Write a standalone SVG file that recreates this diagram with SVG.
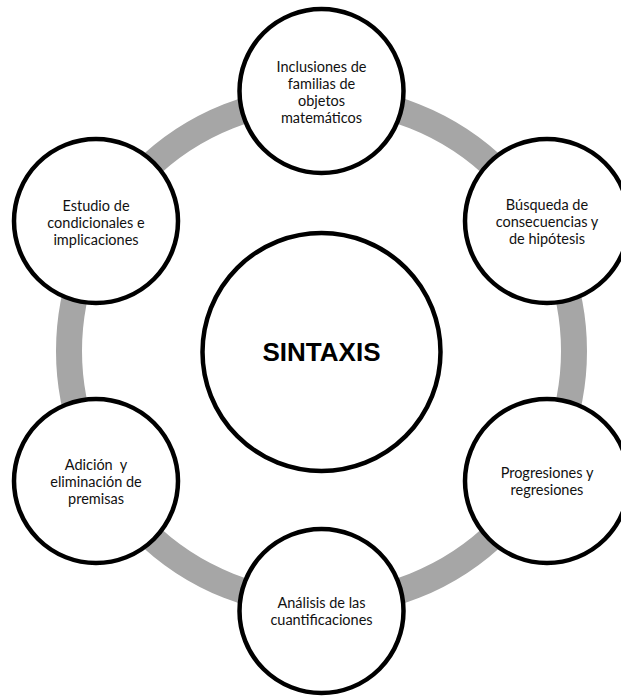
<svg xmlns="http://www.w3.org/2000/svg" width="621" height="696" viewBox="0 0 621 696">
  <style>
    .ring { fill: none; stroke: #a6a6a6; stroke-width: 26; }
    .node { fill: #ffffff; stroke: #000000; stroke-width: 4.5; }
    .label { font-family: Lato, "Liberation Sans", sans-serif; font-size: 14.5px; fill: #111111; text-anchor: middle; }
    .title { font-family: "Liberation Sans", Arial, sans-serif; font-size: 26px; font-weight: bold; fill: #000000; text-anchor: middle; }
  </style>
  <rect width="621" height="696" fill="#ffffff"/>

  <!-- gray cycle ring joining the outer nodes -->
  <g id="connectors">
    <circle class="ring" cx="321.5" cy="351" r="252.5"/>
  </g>

  <g id="node-center">
    <circle class="node" cx="321.5" cy="352" r="119"/>
    <text class="title" x="321.5" y="361">SINTAXIS</text>
  </g>

  <g id="node-top">
    <circle class="node" cx="321.5" cy="91" r="82"/>
    <text class="label" x="321.5" y="72">Inclusiones de</text>
    <text class="label" x="321.5" y="89">familias de</text>
    <text class="label" x="321.5" y="106">objetos</text>
    <text class="label" x="321.5" y="123">matemáticos</text>
  </g>

  <g id="node-top-right">
    <circle class="node" cx="547" cy="221" r="82"/>
    <text class="label" x="547" y="210">Búsqueda de</text>
    <text class="label" x="547" y="227">consecuencias y</text>
    <text class="label" x="547" y="244">de hipótesis</text>
  </g>

  <g id="node-bottom-right">
    <circle class="node" cx="547" cy="481" r="82"/>
    <text class="label" x="547" y="478">Progresiones y</text>
    <text class="label" x="547" y="495">regresiones</text>
  </g>

  <g id="node-bottom">
    <circle class="node" cx="321.5" cy="611" r="82"/>
    <text class="label" x="321.5" y="608">Análisis de las</text>
    <text class="label" x="321.5" y="625">cuantificaciones</text>
  </g>

  <g id="node-bottom-left">
    <circle class="node" cx="96" cy="481" r="82"/>
    <text class="label" x="96" y="470" xml:space="preserve">Adición  y</text>
    <text class="label" x="96" y="487">eliminación de</text>
    <text class="label" x="96" y="504">premisas</text>
  </g>

  <g id="node-top-left">
    <circle class="node" cx="96" cy="221" r="82"/>
    <text class="label" x="96" y="211">Estudio de</text>
    <text class="label" x="96" y="228">condicionales e</text>
    <text class="label" x="96" y="245">implicaciones</text>
  </g>
</svg>
